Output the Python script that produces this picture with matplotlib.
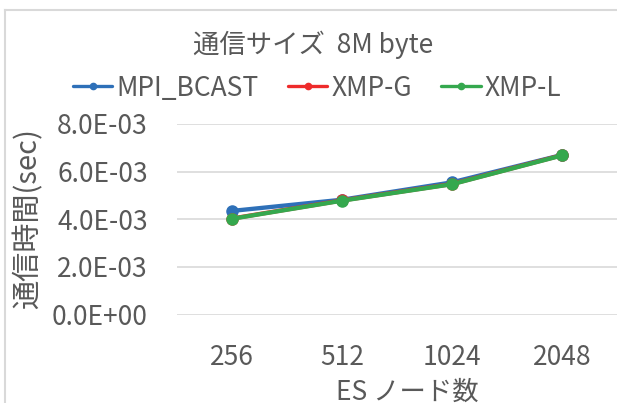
import matplotlib
matplotlib.use("Agg")
import matplotlib.pyplot as plt
from matplotlib.lines import Line2D
from matplotlib.ticker import FuncFormatter

plt.rcParams['font.family'] = ['Noto Sans CJK JP', 'DejaVu Sans']

# Data
nodes = ["256", "512", "1024", "2048"]
mpi_bcast = [4.35e-3, 4.82e-3, 5.55e-3, 6.70e-3]
xmp_g = [4.03e-3, 4.79e-3, 5.48e-3, 6.69e-3]
xmp_l = [4.02e-3, 4.78e-3, 5.47e-3, 6.68e-3]
series_names = ["MPI_BCAST", "XMP-G", "XMP-L"]
y_ticks = [0.0, 2e-3, 4e-3, 6e-3, 8e-3]

title = "通信サイズ  8M byte"
x_title = "ES ノード数"
y_title = "通信時間(sec)"

TEXT = "#595959"
GRID = "#D9D9D9"
colors = ["#2E70B8", "#EE2B2B", "#35A84E"]

W, H = 617, 403
fig = plt.figure(figsize=(W / 100, H / 100), dpi=100)

# axes placed in pixel terms
left, right, top, bottom = 177, 617, 124, 314.5
ax = fig.add_axes([left / W, 1 - bottom / H, (right - left) / W, (bottom - top) / H])

x = list(range(len(nodes)))
handles = []
for vals, name, c in zip([mpi_bcast, xmp_g, xmp_l], series_names, colors):
    h, = ax.plot(x, vals, color=c, lw=3.1, marker='o', markersize=8,
                 solid_capstyle='round', label=name, zorder=3)
    handles.append(h)

ax.set_xlim(-0.5, len(nodes) - 0.5)
ax.set_ylim(0, 8e-3)
ax.set_xticks(x)
ax.set_xticklabels(nodes)
ax.set_yticks(y_ticks)
ax.yaxis.set_major_formatter(FuncFormatter(lambda v, p: "{:.1E}".format(v)))

ax.grid(axis='y', color=GRID, lw=1.2)
ax.set_axisbelow(True)
for s in ax.spines.values():
    s.set_visible(False)
ax.tick_params(length=0, labelsize=19, colors=TEXT)
ax.tick_params(axis='y', pad=21)
ax.tick_params(axis='x', pad=21)

ax.set_xlabel(x_title, fontsize=19, color=TEXT)
ax.xaxis.set_label_coords((407 - left) / (right - left), (bottom - 379) / (bottom - top))
ax.set_ylabel(y_title, fontsize=21, color=TEXT)
ax.yaxis.set_label_coords((43 - left) / (right - left), (bottom - 219) / (bottom - top))

fig.text(313 / W, 1 - 45 / H, title, ha='center', va='center', fontsize=19, color=TEXT)

leg = fig.legend(handles=handles, loc='center', bbox_to_anchor=(317 / W, 1 - 88 / H),
                 ncol=3, frameon=False, fontsize=19, handlelength=1.5,
                 handletextpad=0.15, columnspacing=1.1, labelcolor=TEXT)
for h in leg.legend_handles:
    h.set_markersize(4.5)
    h.set_linewidth(2.4)

# chart frame
fig.add_artist(Line2D([5 / W, 5 / W], [0, 1 - 10 / H], color=GRID, lw=1.5))
fig.add_artist(Line2D([5 / W, 1], [1 - 10 / H, 1 - 10 / H], color=GRID, lw=1.5))

fig.savefig("out.png", dpi=100)
